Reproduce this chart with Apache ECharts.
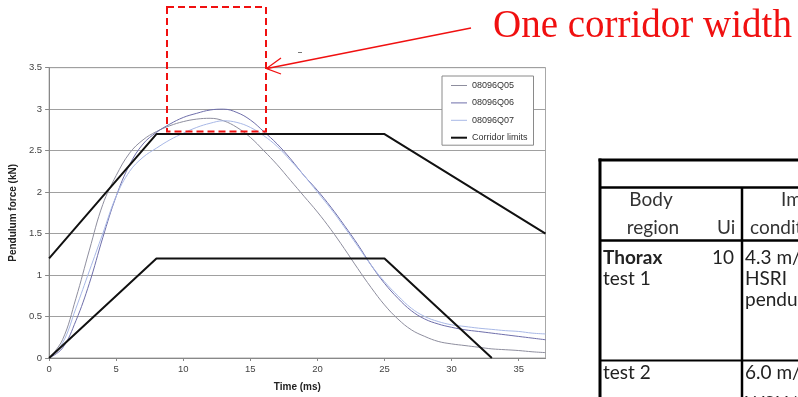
<!DOCTYPE html>
<html><head><meta charset="utf-8">
<script src="https://cdn.jsdelivr.net/npm/echarts@6/dist/echarts.min.js"></script>
<style>html,body{margin:0;padding:0;background:#fff}#c{width:798px;height:397px}</style>
</head><body><div id="c"></div>
<script>
// ---- data ----
var time = [0,1,2,3,4,5,6,7,8,9,10,11,12,13,14,15,16,17,18,19,20,21,22,23,24,25,26,27,28,29,30,31,32,33,34,35,36,37];
var q05 = [0,0.22,0.72,1.3,1.85,2.2,2.47,2.63,2.73,2.8,2.85,2.88,2.89,2.86,2.78,2.66,2.5,2.33,2.14,1.95,1.76,1.55,1.32,1.08,0.85,0.64,0.47,0.34,0.26,0.2,0.17,0.15,0.13,0.11,0.1,0.09,0.075,0.065];
var q06 = [0,0.12,0.45,0.9,1.45,1.95,2.33,2.58,2.72,2.82,2.9,2.95,2.99,3.0,2.96,2.87,2.73,2.58,2.4,2.2,2.02,1.82,1.6,1.37,1.12,0.9,0.72,0.57,0.47,0.41,0.37,0.34,0.32,0.3,0.28,0.26,0.24,0.22];
var q07 = [0,0.18,0.6,1.05,1.5,1.95,2.25,2.42,2.53,2.63,2.71,2.78,2.83,2.86,2.84,2.78,2.68,2.55,2.38,2.2,2.0,1.8,1.58,1.35,1.12,0.92,0.75,0.6,0.5,0.44,0.4,0.38,0.36,0.345,0.33,0.32,0.3,0.29];
var upperX = [0,8,25,37], upperY = [1.2,2.7,2.7,1.5];
var lowerX = [0,8,25,33], lowerY = [0,1.2,1.2,0];
var seriesNames = ['08096Q05','08096Q06','08096Q07','Corridor limits'];
var xTicks = {min:0, max:37, interval:5};
var yTicks = {min:0, max:3.5, interval:0.5};

function pairs(xs, ys){ return xs.map(function(x,i){ return [x, ys[i]]; }); }

var chart = echarts.init(document.getElementById('c'), null, {renderer:'canvas'});
var axisFont = {fontFamily:'Liberation Sans, Arial', fontSize:9.5, color:'#444'};
var tableFont = 'Lato';
function T(x,y,text,opts){
  opts = opts||{};
  return {type:'text', x:x, y:y, z:20, style:{text:text, fill:opts.fill||'#222',
    font:(opts.bold?'bold ':'')+(opts.size||19)+'px '+tableFont, textAlign:opts.align||'left', textVerticalAlign:'middle'}};
}
function L(x1,y1,x2,y2,w,color,dash){
  return {type:'line', z:20, shape:{x1:x1,y1:y1,x2:x2,y2:y2}, style:{stroke:color||'#000', lineWidth:w||1, lineDash:dash||null}};
}
var thin = 'path://M0 0H16V1H0Z', thick = 'path://M0 0H16V2H0Z';

var option = {
  backgroundColor:'#fff',
  animation:false,
  grid:{left:47, right:252.5, top:67.7, bottom:38.3, show:true, borderColor:'#a8a8a8', borderWidth:1, backgroundColor:'transparent'},
  legend:{
    data:[{name:seriesNames[0], icon:thin},{name:seriesNames[1], icon:thin},{name:seriesNames[2], icon:thin},{name:seriesNames[3], icon:thick}],
    orient:'vertical', left:442, top:76,
    padding:[5,6,3,9], itemWidth:16, itemHeight:8, itemGap:8.4,
    backgroundColor:'#fff', borderColor:'#8a8a8a', borderWidth:1,
    textStyle:{fontFamily:'Liberation Sans, Arial', fontSize:9, color:'#333'}
  },
  xAxis:{type:'value', min:xTicks.min, max:xTicks.max, interval:xTicks.interval,
    name:'Time (ms)', nameLocation:'middle', nameGap:24,
    nameTextStyle:{fontFamily:'Liberation Sans, Arial', fontSize:10, fontWeight:'bold', color:'#222'},
    axisLine:{lineStyle:{color:'#888', width:1}}, axisTick:{show:true, length:3, lineStyle:{color:'#888'}},
    axisLabel:Object.assign({margin:6, showMaxLabel:false}, axisFont), splitLine:{show:false}},
  yAxis:{type:'value', min:yTicks.min, max:yTicks.max, interval:yTicks.interval,
    name:'Pendulum force (kN)', nameLocation:'middle', nameGap:28, nameRotate:90,
    nameTextStyle:{fontFamily:'Liberation Sans, Arial', fontSize:10, fontWeight:'bold', color:'#222'},
    axisLine:{show:true, lineStyle:{color:'#888', width:1}}, axisTick:{show:true, length:4, lineStyle:{color:'#888'}},
    axisLabel:Object.assign({margin:7}, axisFont),
    splitLine:{show:true, lineStyle:{color:'#a0a0a0', width:1}}},
  series:[
    {name:seriesNames[0], type:'line', data:pairs(time,q05), symbol:'none', smooth:0.4, lineStyle:{color:'#8e8e9e', width:1}, itemStyle:{color:'#8e8e9e'}},
    {name:seriesNames[1], type:'line', data:pairs(time,q06), symbol:'none', smooth:0.4, lineStyle:{color:'#6e6eaa', width:1}, itemStyle:{color:'#6e6eaa'}},
    {name:seriesNames[2], type:'line', data:pairs(time,q07), symbol:'none', smooth:0.4, lineStyle:{color:'#a8b8e6', width:1}, itemStyle:{color:'#a8b8e6'}},
    {name:seriesNames[3], type:'line', data:pairs(upperX,upperY), symbol:'none', lineStyle:{color:'#111', width:2}, itemStyle:{color:'#111'}, z:5},
    {name:seriesNames[3], type:'line', data:pairs(lowerX,lowerY), symbol:'none', lineStyle:{color:'#111', width:2}, itemStyle:{color:'#111'}, z:5}
  ],
  graphic:[
    // red annotation
    {type:'rect', z:30, shape:{x:167, y:7, width:99, height:124.5}, style:{fill:'none', stroke:'#f01010', lineWidth:2, lineDash:[7,4]}},
    L(471,28,267,68.5,1.3,'#f01010'),
    {type:'polyline', z:30, shape:{points:[[281,58],[266.5,68.5],[281,74]]}, style:{fill:'none', stroke:'#f01010', lineWidth:1.3}},
    {type:'text', z:30, x:493, y:27, style:{text:'One corridor width', fill:'#f01010', font:'39px "Liberation Serif"', textVerticalAlign:'middle'}},
    L(298,52.5,302,52.5,1,'#777'),
    // table
    L(598.5,160,798,160,3,'#000'),
    L(600,158.5,600,397,3,'#000'),
    L(600,187.5,798,187.5,2.5,'#000'),
    L(600,240.5,798,240.5,2.5,'#000'),
    L(742,187,742,397,2.5,'#000'),
    L(600,360.5,798,360.5,2,'#000'),
    T(651,200,'Body',{fill:'#333',align:'center'}),
    T(653,228,'region',{fill:'#333',align:'center'}),
    T(717,228,'Ui',{fill:'#333'}),
    T(781,200,'Impact',{fill:'#333'}),
    T(750,228,'conditions',{fill:'#333'}),
    T(603,258,'Thorax',{bold:true}),
    T(734,258,'10',{align:'right'}),
    T(745,258,'4.3 m/s'),
    T(603,279,'test 1'),
    T(745,279,'HSRI'),
    T(745,300,'pendulum'),
    T(603,373,'test 2'),
    T(745,373,'6.0 m/s'),
    T(745,404,'WSU/')
  ]
};
chart.setOption(option);
</script></body></html>
